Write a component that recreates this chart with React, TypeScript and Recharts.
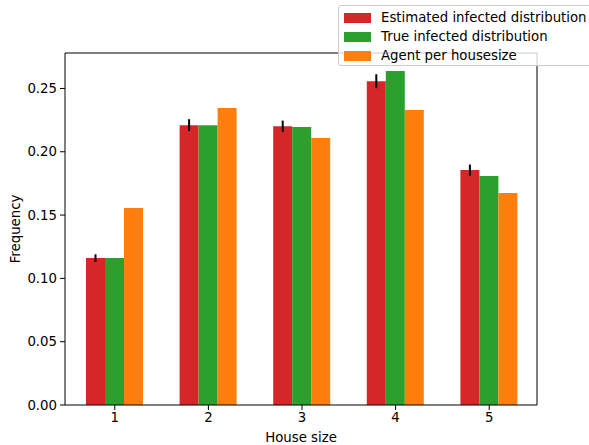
import React from 'react';
import { BarChart, Bar, XAxis, YAxis, ErrorBar, Label } from 'recharts';

const houseSizes = ['1', '2', '3', '4', '5'];
const estimated = [0.116, 0.221, 0.2202, 0.2557, 0.1855];
const estimatedErr = [0.003, 0.0047, 0.0044, 0.0055, 0.0044];
const trueInfected = [0.116, 0.221, 0.2195, 0.2637, 0.1808];
const agents = [0.1555, 0.2345, 0.2108, 0.2329, 0.1674];
const yTicks = [0, 0.05, 0.1, 0.15, 0.2, 0.25];

const RED = '#d62728';
const GREEN = '#2ca02c';
const ORANGE = '#ff7f0e';
const FONT = '"DejaVu Sans", sans-serif';

const data = houseSizes.map((h, i) => ({
  size: h,
  estimated: estimated[i],
  err: estimatedErr[i],
  trueInf: trueInfected[i],
  agents: agents[i],
}));

const legendItems = [
  { name: 'Estimated infected distribution', color: RED },
  { name: 'True infected distribution', color: GREEN },
  { name: 'Agent per housesize', color: ORANGE },
];

const tickStyle = { fontSize: 13.3, fill: '#000', fontFamily: FONT };

export default function App() {
  return (
    <div style={{ position: 'absolute', left: 0, top: 0, width: 589, height: 445, overflow: 'hidden', background: '#fff', fontFamily: FONT }}>
      <BarChart
        width={589}
        height={445}
        data={data}
        margin={{ top: 52, right: 51, bottom: 0, left: 0 }}
        barGap={0}
        barCategoryGap={18}
      >
        <XAxis
          dataKey="size"
          height={40}
          padding={{ left: 3, right: 1 }}
          stroke="#000"
          tick={tickStyle}
          tickSize={5}
          tickMargin={3}
        >
          <Label value="House size" position="insideBottom" offset={3} style={{ fontSize: 13.3, fill: '#000', fontFamily: FONT }} />
        </XAxis>
        <XAxis xAxisId="top" dataKey="size" orientation="top" height={1} padding={{ left: 3, right: 1 }} tick={false} tickLine={false} stroke="#000" />
        <YAxis
          width={65}
          domain={[0, 0.278]}
          ticks={yTicks}
          allowDataOverflow
          stroke="#000"
          tick={tickStyle}
          tickSize={5}
          tickMargin={3}
          tickFormatter={(v: number) => v.toFixed(2)}
        >
          <Label
            content={({ viewBox }: any) => {
              const cy = viewBox.y + viewBox.height / 2;
              return (
                <text x={15} y={cy} transform={`rotate(-90, 15, ${cy})`} textAnchor="middle" dominantBaseline="central" fontSize={13.3} fontFamily={FONT} fill="#000">
                  Frequency
                </text>
              );
            }}
          />
        </YAxis>
        <YAxis yAxisId="right" orientation="right" width={1} domain={[0, 0.278]} tick={false} tickLine={false} stroke="#000" />
        <Bar dataKey="estimated" fill={RED} isAnimationActive={false}>
          <ErrorBar dataKey="err" width={0} stroke="#000" strokeWidth={2} direction="y" />
        </Bar>
        <Bar dataKey="trueInf" fill={GREEN} isAnimationActive={false} />
        <Bar dataKey="agents" fill={ORANGE} isAnimationActive={false} />
      </BarChart>
      {/* legend sticks out past the right edge, like the reference */}
      <div
        style={{
          position: 'absolute',
          left: 338,
          top: 5,
          width: 275,
          height: 61,
          boxSizing: 'border-box',
          border: '1px solid #cccccc',
          borderRadius: 3,
          background: 'rgba(255,255,255,0.8)',
          paddingTop: 2,
        }}
      >
        {legendItems.map((it) => (
          <div key={it.name} style={{ display: 'flex', alignItems: 'center', height: 19, marginLeft: 5 }}>
            <span style={{ display: 'inline-block', width: 27, height: 10, background: it.color, marginRight: 10 }} />
            <span style={{ fontSize: 13.3, color: '#000', whiteSpace: 'nowrap' }}>{it.name}</span>
          </div>
        ))}
      </div>
    </div>
  );
}
